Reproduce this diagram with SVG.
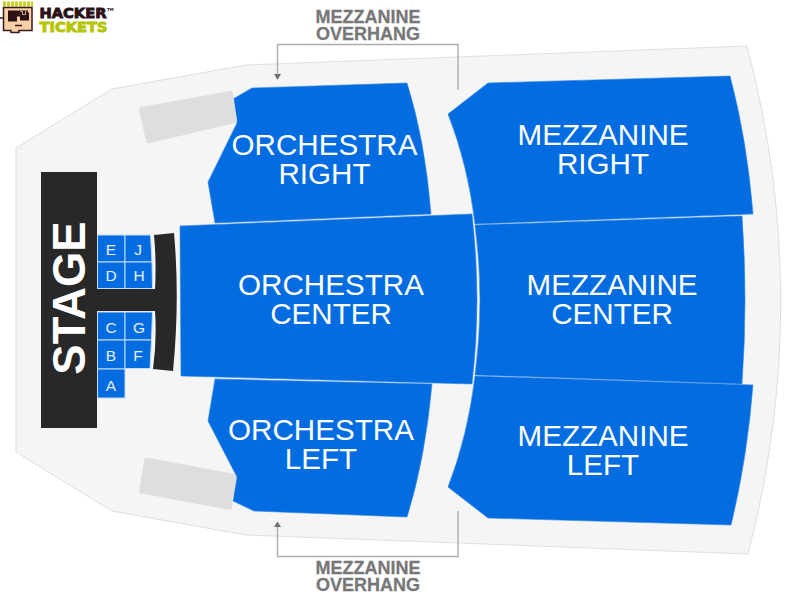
<svg xmlns="http://www.w3.org/2000/svg" width="800" height="600" viewBox="0 0 800 600">
<style>
text{font-family:"Liberation Sans",Arial,sans-serif;text-anchor:middle}
.sec{fill:#036ce0;stroke:#2f86e6;stroke-width:.6}
.big{font-size:29.6px;fill:#fff}
.seat{fill:#036ce0;stroke:#c4dcf6;stroke-width:1}
.sl{font-size:15.500px;fill:#e6f0fc}
.dark{fill:#282828}
.gr{fill:#dedede}
.cap{font-size:18px;font-weight:bold;fill:#777;stroke:#777;stroke-width:.3}
.br{fill:none;stroke:#adadad;stroke-width:1.4}
.ah{fill:#6f6f6f}
.lg{font-family:"DejaVu Sans","Liberation Sans",sans-serif;font-weight:bold;text-anchor:start;stroke-width:.9}
</style>
<g id="floor"><path d="M16 148L112 89L246 65L747 46Q814 300 748 554L246 535L112 511L16 452Z" fill="#f5f5f5" stroke="#dfdfdf" stroke-width="1"/></g>
<g id="logo">
<rect x="3" y="1.500" width="30" height="5" fill="#c3cf1d"/>
<path d="M6.500 1.500v5M10.500 1.500v5M14.500 1.500v5M18.500 1.500v5M22.500 1.500v5M26.500 1.500v5M30.500 1.500v5" stroke="#fff" stroke-width="1.200"/>
<path d="M3.500 7.500h28.500v23h-13v2h-8v-2h-7.500z" fill="#f8cfa6" stroke="#3b1a1a" stroke-width="1.500"/>
<path d="M0 18h4" stroke="#3b1a1a" stroke-width="1.500"/>
<path d="M8 10.500h20v2h1v8h-9v-4h-3v5h-9z" fill="#2b1216"/>
<path d="M20.500 11.500h2v3h3v-3h1" fill="none" stroke="#f8cfa6" stroke-width=".8"/>
<path d="M15 25.500h7" stroke="#3b1a1a" stroke-width="1.500"/>
<text class="lg" x="39.500" y="18" font-size="14" textLength="67" lengthAdjust="spacingAndGlyphs" fill="#2b1216" stroke="#2b1216">HACKER</text>
<text class="lg" x="39.500" y="31.500" font-size="14" textLength="68" lengthAdjust="spacingAndGlyphs" fill="#b5c400" stroke="#b5c400">TICKETS</text>
<text class="lg" x="107" y="11" font-size="4" fill="#2b1216" style="stroke:none">TM</text>
</g>
<g id="stage"><rect class="dark" x="41" y="172" width="56" height="256"/><text transform="translate(85 298) rotate(-90)" font-size="45.500" font-weight="bold" fill="#fff">STAGE</text></g>
<g id="stage-extension"><path class="dark" d="M97 289H155Q156.500 262 154 235L174 233Q180 300 173 371L153 369Q157 340 155 311H97Z"/></g>
<g id="seat-E"><path class="seat" d="M97.500 235H125V262H97.500Z"/><text class="sl" x="111" y="255">E</text></g>
<g id="seat-J"><path class="seat" d="M125 235H150.500L152 262H125Z"/><text class="sl" x="138" y="255">J</text></g>
<g id="seat-D"><path class="seat" d="M97.500 262H125V288.500H97.500Z"/><text class="sl" x="111" y="281">D</text></g>
<g id="seat-H"><path class="seat" d="M125 262H152L152.500 288.500H125Z"/><text class="sl" x="139" y="281">H</text></g>
<g id="seat-C"><path class="seat" d="M97.500 312H125V340H97.500Z"/><text class="sl" x="111" y="333">C</text></g>
<g id="seat-G"><path class="seat" d="M125 312H152.500L151.500 340H125Z"/><text class="sl" x="139" y="333">G</text></g>
<g id="seat-B"><path class="seat" d="M97.500 340H125V369H97.500Z"/><text class="sl" x="111" y="361">B</text></g>
<g id="seat-F"><path class="seat" d="M125 340H151.500L150 368.500H125Z"/><text class="sl" x="138" y="361">F</text></g>
<g id="seat-A"><path class="seat" d="M97.500 369H125V398H97.500Z"/><text class="sl" x="111" y="391">A</text></g>
<g id="orchestra-right"><path class="sec" d="M233 99L252 88L407 83Q425 140 431 214L215 223L208 182L237 123Z"/><text class="big" x="324.500" y="155">ORCHESTRA</text><text class="big" x="324.500" y="184">RIGHT</text></g>
<g id="orchestra-center"><path class="sec" d="M180 226L472 214Q482 300 472 384L181 376Z"/><text class="big" x="331" y="295">ORCHESTRA</text><text class="big" x="331" y="324">CENTER</text></g>
<g id="orchestra-left"><path class="sec" d="M215 379L432 384Q425 460 407 517L254 511L233 501L237 477L208 421Z"/><text class="big" x="321" y="440">ORCHESTRA</text><text class="big" x="321" y="469">LEFT</text></g>
<g id="mezzanine-right"><path class="sec" d="M488 83L730 76Q747 140 753 214L475 224Q468 165 448 114Z"/><text class="big" x="603" y="145">MEZZANINE</text><text class="big" x="603" y="174">RIGHT</text></g>
<g id="mezzanine-center"><path class="sec" d="M475 225L742 216Q748 300 742 384L475 375Q485 300 475 225Z"/><text class="big" x="612" y="295">MEZZANINE</text><text class="big" x="612" y="324">CENTER</text></g>
<g id="mezzanine-left"><path class="sec" d="M475 376L753 385Q747 460 731 525L488 518L448 487Q468 435 475 376Z"/><text class="big" x="603" y="446">MEZZANINE</text><text class="big" x="603" y="475">LEFT</text></g>
<g id="box-upper"><path class="gr" d="M141 107L230 91Q232 91 233 93L237 120Q237 122 235 123L150 143Q147 144 146 141L139 110Q139 108 141 107Z"/></g>
<g id="box-lower"><path class="gr" d="M150 458L234 474Q236 475 236 477L232 508Q232 510 230 510L139 493L144 460Q145 457 150 458Z"/></g>
<g id="connectors">
<path class="br" d="M277.500 75V44.500H458V90"/><path class="ah" d="M277.500 80L274 74H281Z"/>
<path class="br" d="M277.500 527V556.500H458V511"/><path class="ah" d="M277.500 521.500L274 527H281Z"/>
</g>
<g id="label-top"><text class="cap" x="368" y="22.500">MEZZANINE</text><text class="cap" x="368" y="39.500">OVERHANG</text></g>
<g id="label-bottom"><text class="cap" x="368" y="574">MEZZANINE</text><text class="cap" x="368" y="591">OVERHANG</text></g>
</svg>
